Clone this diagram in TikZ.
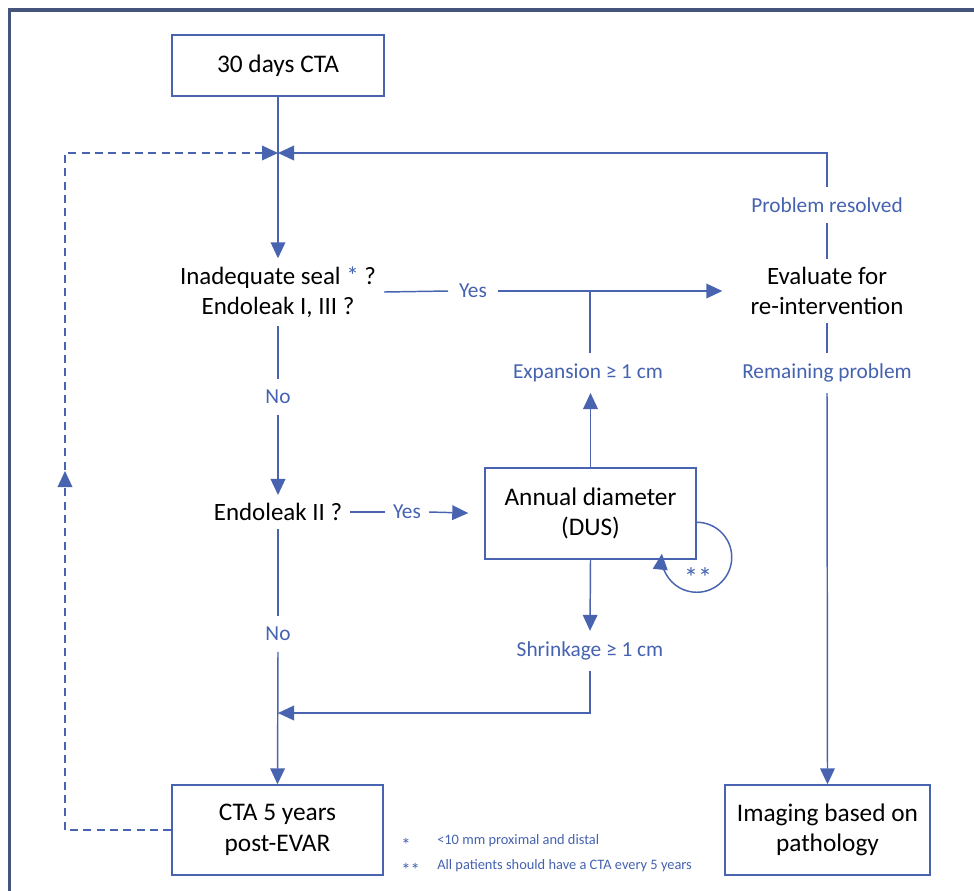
\documentclass[tikz,border=0pt]{standalone}
\usepackage{fontspec}
\setmainfont{Carlito}
\usetikzlibrary{arrows.meta,calc,decorations.markings}
\definecolor{lblue}{RGB}{72,99,176}
\definecolor{tblue}{RGB}{68,98,176}
\definecolor{frame}{RGB}{68,84,122}
\begin{document}
\begin{tikzpicture}[x=0.75pt,y=-0.75pt,
  tip/.style={-{Triangle[length=12pt,width=11pt]}},
  conn/.style={draw=lblue,line width=1.1pt},
  boxnode/.style={draw=lblue,line width=1.1pt,align=center,font=\fontsize{19}{23}\selectfont,inner sep=0pt},
  txtnode/.style={align=center,font=\fontsize{18.7}{22.5}\selectfont,inner sep=6pt},
  lbl/.style={text=tblue,font=\fontsize{16}{19}\selectfont,inner sep=8pt},
  foot/.style={text=tblue,font=\fontsize{10.8}{12}\selectfont,inner sep=0pt,anchor=west}]
\useasboundingbox (0,0) rectangle (974,890);
% frame
\draw[frame,line width=2.4pt] (9.5,900) -- (9.5,10) -- (990,10);

% boxes
\node[boxnode,minimum width=159pt,minimum height=45.75pt] (b30) at (278,65.5) {30 days CTA};
\node[boxnode,minimum width=158.25pt,minimum height=68.25pt] (dus) at (590.5,513.5) {Annual diameter\\(DUS)};
\node[boxnode,minimum width=158.25pt,minimum height=67.5pt] (cta5) at (277.5,830) {CTA 5 years\\post-EVAR};
\node[boxnode,minimum width=153.75pt,minimum height=67.5pt] (img) at (827.5,830) {Imaging based on\\pathology};

% decisions
\node[txtnode] (q1) at (278,292) {Inadequate seal {\color{tblue}*} ?\\Endoleak I, III ?};
\node[txtnode] (q2) at (278,512) {Endoleak II ?};
\node[txtnode,inner xsep=21pt,inner ysep=6pt] (ev) at (827,291) {Evaluate for\\re-intervention};

% labels
\node[lbl] (yes1) at (473,291) {Yes};
\node[lbl] (no1) at (278,397) {No};
\node[lbl,inner sep=6pt] (yes2) at (407,512) {Yes};
\node[lbl] (no2) at (278,634) {No};
\node[lbl] (exp) at (588,373) {Expansion ≥ 1 cm};
\node[lbl] (shr) at (590,651) {Shrinkage ≥ 1 cm};
\node[lbl] (pr) at (827,205) {Problem resolved};
\node[lbl] (rp) at (827,373) {Remaining problem};
\node[text=tblue,font=\fontsize{21}{24}\selectfont,inner sep=0pt] (ast) at (698,578) {**};

% junction coordinates
\coordinate (j1) at (278,153);
\coordinate (j2) at (278,713);
\coordinate (jy) at (590,291);
\coordinate (dl) at (65,153);

% connectors
\draw[conn,tip] (b30.south) -- (q1.north);
\draw[conn,tip] (pr.north) |- (j1);
\draw[conn] (ev.north) -- (pr.south);
\draw[conn] (ev.south) -- (rp.north);
\draw[conn,tip] (rp.south) -- (img.north);
\draw[conn] (q1.east) -- (yes1.west);
\draw[conn,tip] (yes1.east) -- (ev.west);
\draw[conn] (590,373 |- exp.north) -- (jy);
\draw[conn,tip] (dus.north) -- (dus.north |- exp.south);
\draw[conn,tip] (dus.south) -- (shr.north);
\draw[conn,tip] (shr.south) |- (j2);
\draw[conn] (q1.south) -- (no1.north);
\draw[conn,tip] (no1.south) -- (q2.north);
\draw[conn] (q2.east) -- (yes2.west);
\draw[conn,tip,shorten >=12pt] (yes2.east) -- (dus.west);
\draw[conn] (q2.south) -- (no2.north);
\draw[conn,tip] (no2.south) -- (cta5.north);
% self loop
\draw[conn,tip] ($(dus.north east)+(0,55)$) arc[start angle=-90,end angle=186,radius=35];
% dashed return
\draw[conn,dashed,dash pattern=on 6pt off 4pt,tip,
  postaction={decorate},
  decoration={markings,mark=at position 0.467 with {\arrow{Triangle[length=12pt,width=11pt]}}}]
  (cta5.west) -| (dl) -- (j1);

% footnotes
\node[foot,font=\fontsize{14}{14}\selectfont] (f1a) at (401,845) {*};
\node[foot] (f1b) at (437,841) {<10 mm proximal and distal};
\node[foot,font=\fontsize{14}{14}\selectfont] (f2a) at (401,870) {**};
\node[foot] (f2b) at (437,866) {All patients should have a CTA every 5 years};
\end{tikzpicture}
\end{document}
